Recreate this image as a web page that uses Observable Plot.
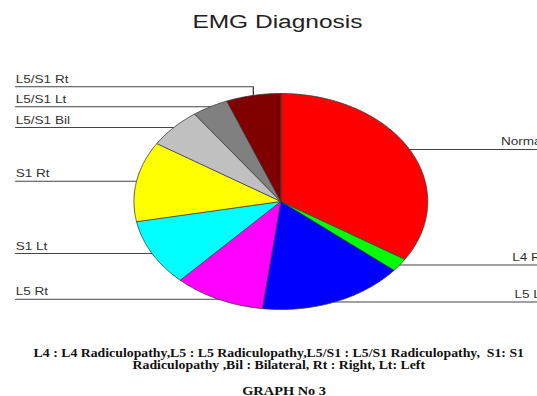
<!DOCTYPE html>
<html>
<head>
<meta charset="utf-8">
<script src="https://cdn.jsdelivr.net/npm/d3@7"></script>
<script src="https://cdn.jsdelivr.net/npm/@observablehq/plot@0.6"></script>
<style>
  html, body { margin: 0; padding: 0; background: #fff; overflow: hidden; width: 537px; height: 396px; }
  #chart { width: 412px; transform: scaleX(1.36); transform-origin: 0 0; }
  #title { width: 408px; height: 40px; box-sizing: border-box; padding-top: 12px; line-height: 22px;
           font: 18px "Liberation Sans", Arial, sans-serif; color: #222; text-align: center; }
  #caption { position: absolute; left: 0; top: 320px; width: 537px; box-sizing: border-box;
             padding-top: 27px; font: bold 11.5px "Liberation Serif", "Times New Roman", serif;
             line-height: 12px; color: #111; text-align: center; white-space: nowrap; }
  #caption > div { position: absolute; left: 0; width: 537px; text-align: center; transform-origin: 282px 0; }
  #notes { top: 27px; transform: translateX(13px) scaleX(1.2); }
  #graph { top: 65px; transform: translateX(19px) scaleX(1.25); }
</style>
</head>
<body>
<div id="chart">
  <div id="title">EMG Diagnosis</div>
</div>
<div id="caption">
  <div id="notes">L4 : L4 Radiculopathy,L5 : L5 Radiculopathy,L5/S1 : L5/S1 Radiculopathy,&nbsp; S1: S1<br>Radiculopathy ,Bil : Bilateral, Rt : Right, Lt: Left</div>
  <div id="graph">GRAPH No 3</div>
</div>
<script>
// Data, clockwise from 12 o'clock
const categories = ["Normal", "L4 Rt", "L5 Lt", "L5 Rt", "S1 Lt", "S1 Rt", "L5/S1 Bil", "L5/S1 Lt", "L5/S1 Rt"];
const values = [34, 2, 16, 10, 10, 12, 6, 4, 6];
const colors = ["#ff0000", "#00ff00", "#0000ff", "#ff00ff", "#00ffff", "#ffff00", "#c0c0c0", "#808080", "#800000"];

// Layout (pixels, inside the unstretched SVG)
const W = 412, H = 280;
const cx = 206, cy = 161, R = 108;
const leftTextX = 11, rightTextX = 400, rightLineX = 412, minGap = 20;

const toUx = px => (px - cx) / R;

const arcs = d3.pie().sort(null).value(d => d)(values);

// slice polygons
const pts = [];
arcs.forEach((a, i) => {
  const cat = categories[i], color = colors[i];
  pts.push({cat, color, x: 0, y: 0});
  const n = Math.max(2, Math.ceil((a.endAngle - a.startAngle) / 0.01));
  for (let k = 0; k <= n; ++k) {
    const t = a.startAngle + (a.endAngle - a.startAngle) * k / n;
    pts.push({cat, color, x: Math.sin(t), y: -Math.cos(t)});
  }
});

// labels
const labels = arcs.map((a, i) => {
  const m = (a.startAngle + a.endAngle) / 2;
  const ex = Math.sin(m), ey = -Math.cos(m);
  return {cat: categories[i], ex, ey, ly: ey, left: ex < 0};
});
const leftL = labels.filter(d => d.left).sort((a, b) => b.ey - a.ey);
for (let k = 1; k < leftL.length; ++k) leftL[k].ly = Math.min(leftL[k].ly, leftL[k - 1].ly - minGap / R);
const rightL = labels.filter(d => !d.left).sort((a, b) => a.ey - b.ey);
for (let k = 1; k < rightL.length; ++k) rightL[k].ly = Math.max(rightL[k].ly, rightL[k - 1].ly + minGap / R);

const leaders = [];
labels.forEach(d => {
  const endX = d.left ? toUx(leftTextX) : toUx(rightLineX);
  leaders.push({cat: d.cat, x: d.ex, y: d.ey});
  leaders.push({cat: d.cat, x: d.ex, y: d.ly});
  leaders.push({cat: d.cat, x: endX, y: d.ly});
});
const textRows = labels.map(d => ({
  cat: d.cat,
  x: d.left ? toUx(leftTextX) : toUx(rightTextX),
  y: d.ly,
  anchor: d.left ? "start" : "end"
}));

const plot = Plot.plot({
  width: W, height: H,
  margin: 0,
  x: {domain: [-1, 1], range: [cx - R, cx + R], axis: null},
  y: {domain: [-1, 1], range: [cy - R, cy + R], axis: null},
  style: {background: "transparent", overflow: "visible"},
  marks: [
    Plot.line(leaders, {x: "x", y: "y", z: "cat", stroke: "#444", strokeWidth: 1, curve: "linear"}),
    Plot.line(pts, {x: "x", y: "y", z: "cat", fill: "color", stroke: "#3a3a3a", strokeWidth: 0.7, curve: "linear-closed"}),
    Plot.text(textRows.filter(d => d.anchor === "start"), {x: "x", y: "y", text: "cat", textAnchor: "start", lineAnchor: "bottom", dy: -4,
      fontSize: 10, fontFamily: "Liberation Sans, Arial, sans-serif", fill: "#333"}),
    Plot.text(textRows.filter(d => d.anchor === "end"), {x: "x", y: "y", text: "cat", textAnchor: "end", lineAnchor: "bottom", dy: -4,
      fontSize: 10, fontFamily: "Liberation Sans, Arial, sans-serif", fill: "#333"})
  ]
});
document.getElementById("chart").appendChild(plot);
</script>
</body>
</html>
